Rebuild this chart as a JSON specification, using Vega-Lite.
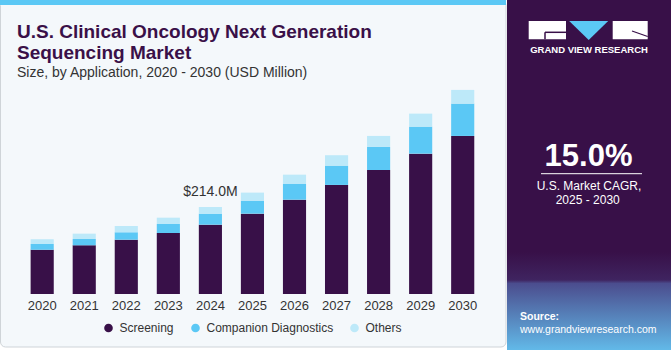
{
  "$schema": "https://vega.github.io/schema/vega-lite/v6.json",
  "background": "#ffffff",
  "padding": 0,
  "spacing": 0,
  "config": {"view": {"stroke": null}, "font": "Liberation Sans"},
  "hconcat": [
    {
      "width": 470.9,
      "height": 294,
      "title": {
        "text": ["U.S. Clinical Oncology Next Generation", "Sequencing Market"],
        "subtitle": "Size, by Application, 2020 - 2030 (USD Million)",
        "anchor": "start",
        "frame": "group",
        "orient": "top",
        "offset": -80,
        "font": "Liberation Sans",
        "fontSize": 19,
        "fontWeight": "bold",
        "color": "#3a1048",
        "lineHeight": 21.5,
        "subtitleFont": "Liberation Sans",
        "subtitleFontSize": 14,
        "subtitleColor": "#333333",
        "subtitlePadding": 3
      },
      "layer": [
        {
          "data": {"values": [{"panel": "left"}]},
          "mark": {"type": "rect", "fill": "#f4f8fb", "stroke": "#cfd4d8", "strokeWidth": 1, "cornerRadius": 5},
          "encoding": {"x": {"value": -16.5}, "x2": {"value": 489}, "y": {"value": 0.5}, "y2": {"value": 347}}
        },
        {
          "data": {"values": [{"panel": "strip"}]},
          "mark": {"type": "rect", "fill": "#5bc8f5"},
          "encoding": {"x": {"value": -17}, "x2": {"value": 489}, "y": {"value": 0}, "y2": {"value": 5}}
        },
        {
          "data": {
            "values": [
              {"year": "2020", "segment": "Screening", "value": 109.0},
              {"year": "2020", "segment": "Companion Diagnostics", "value": 14.0},
              {"year": "2020", "segment": "Others", "value": 11.5},
              {"year": "2021", "segment": "Screening", "value": 119.8},
              {"year": "2021", "segment": "Companion Diagnostics", "value": 15.5},
              {"year": "2021", "segment": "Others", "value": 13.1},
              {"year": "2022", "segment": "Screening", "value": 133.6},
              {"year": "2022", "segment": "Companion Diagnostics", "value": 18.2},
              {"year": "2022", "segment": "Others", "value": 15.5},
              {"year": "2023", "segment": "Screening", "value": 150.0},
              {"year": "2023", "segment": "Companion Diagnostics", "value": 22.1},
              {"year": "2023", "segment": "Others", "value": 15.6},
              {"year": "2024", "segment": "Screening", "value": 170.5},
              {"year": "2024", "segment": "Companion Diagnostics", "value": 27.1},
              {"year": "2024", "segment": "Others", "value": 16.4},
              {"year": "2025", "segment": "Screening", "value": 197.6},
              {"year": "2025", "segment": "Companion Diagnostics", "value": 32.0},
              {"year": "2025", "segment": "Others", "value": 19.7},
              {"year": "2026", "segment": "Screening", "value": 232.0},
              {"year": "2026", "segment": "Companion Diagnostics", "value": 39.4},
              {"year": "2026", "segment": "Others", "value": 22.1},
              {"year": "2027", "segment": "Screening", "value": 268.2},
              {"year": "2027", "segment": "Companion Diagnostics", "value": 47.5},
              {"year": "2027", "segment": "Others", "value": 25.6},
              {"year": "2028", "segment": "Screening", "value": 305.0},
              {"year": "2028", "segment": "Companion Diagnostics", "value": 56.6},
              {"year": "2028", "segment": "Others", "value": 27.1},
              {"year": "2029", "segment": "Screening", "value": 345.2},
              {"year": "2029", "segment": "Companion Diagnostics", "value": 66.4},
              {"year": "2029", "segment": "Others", "value": 32.0},
              {"year": "2030", "segment": "Screening", "value": 388.7},
              {"year": "2030", "segment": "Companion Diagnostics", "value": 79.5},
              {"year": "2030", "segment": "Others", "value": 33.7}
            ]
          },
          "transform": [
            {"calculate": "indexof(['Screening','Companion Diagnostics','Others'], datum.segment)", "as": "stackOrder"}
          ],
          "mark": {"type": "bar"},
          "encoding": {
            "x": {
              "field": "year",
              "type": "ordinal",
              "scale": {"paddingInner": 0.45, "paddingOuter": 0.324},
              "axis": {"title": null, "labelAngle": 0, "ticks": false, "domain": false, "labelFontSize": 13, "labelColor": "#333333", "labelPadding": 5, "labelFont": "Liberation Sans", "zindex": 1}
            },
            "y": {
              "field": "value",
              "type": "quantitative",
              "stack": "zero",
              "scale": {"domain": [0, 723], "nice": false, "zero": true},
              "axis": null
            },
            "color": {
              "field": "segment",
              "type": "nominal",
              "scale": {"domain": ["Screening", "Companion Diagnostics", "Others"], "range": ["#381048", "#5bc8f5", "#bde9f9"]},
              "legend": {
                "title": null,
                "orient": "none",
                "legendX": 85.5,
                "legendY": 322,
                "direction": "horizontal",
                "symbolType": "circle",
                "symbolSize": 75,
                "labelFontSize": 12,
                "labelColor": "#333333",
                "labelFont": "Liberation Sans",
                "columnPadding": 15,
                "labelOffset": 5
              }
            },
            "order": {"field": "stackOrder", "type": "quantitative"}
          }
        },
        {
          "data": {"values": [{"year": "2024", "value": 214.0, "label": "$214.0M"}]},
          "mark": {"type": "text", "baseline": "alphabetic", "dy": -11, "fontSize": 14, "color": "#333333", "font": "Liberation Sans"},
          "encoding": {
            "x": {"field": "year", "type": "ordinal"},
            "y": {"field": "value", "type": "quantitative"},
            "text": {"field": "label"}
          }
        }
      ]
    },
    {
      "width": 165,
      "height": 350,
      "view": {
        "stroke": null,
        "fill": {
          "gradient": "linear", "x1": 0, "y1": 0, "x2": 0, "y2": 1,
          "stops": [
            {"offset": 0, "color": "#381048"},
            {"offset": 0.72, "color": "#381048"},
            {"offset": 0.8, "color": "#3f2460"},
            {"offset": 0.81, "color": "#4b4d8e"},
            {"offset": 1, "color": "#62b9e8"}
          ]
        }
      },
      "layer": [
        {
          "data": {"values": [{"part": "G"}]},
          "mark": {"type": "rect", "fill": "#ffffff"},
          "encoding": {"x": {"value": 21.7}, "x2": {"value": 59}, "y": {"value": 21}, "y2": {"value": 39.3}}
        },
        {
          "data": {"values": [{"part": "R"}]},
          "mark": {"type": "rect", "fill": "#ffffff"},
          "encoding": {"x": {"value": 105.7}, "x2": {"value": 140.7}, "y": {"value": 21}, "y2": {"value": 39.3}}
        },
        {
          "data": {"values": [{"part": "Gh"}]},
          "mark": {"type": "rule", "color": "#381048", "strokeWidth": 1.5},
          "encoding": {"x": {"value": 38}, "x2": {"value": 59}, "y": {"value": 32.3}}
        },
        {
          "data": {"values": [{"part": "Gv"}]},
          "mark": {"type": "rule", "color": "#381048", "strokeWidth": 1.5},
          "encoding": {"x": {"value": 38}, "y": {"value": 32.3}, "y2": {"value": 39.3}}
        },
        {
          "data": {"values": [{"part": "Rd"}]},
          "mark": {"type": "rule", "color": "#381048", "strokeWidth": 1.2},
          "encoding": {"x": {"value": 125}, "y": {"value": 31}, "x2": {"value": 140.7}, "y2": {"value": 36.5}}
        },
        {
          "data": {"values": [{"part": "V"}]},
          "mark": {"type": "point", "shape": "M-1,-0.487L1,-0.487L0,0.487Z", "filled": true, "fill": "#5bc8f5", "opacity": 1, "strokeWidth": 0, "size": 1521},
          "encoding": {"x": {"value": 81.7}, "y": {"value": 30.5}}
        },
        {
          "data": {"values": [{"t": "GRAND VIEW RESEARCH"}]},
          "mark": {"type": "text", "align": "center", "baseline": "alphabetic", "fontSize": 9.5, "fontWeight": "bold", "color": "#ffffff"},
          "encoding": {"x": {"value": 82}, "y": {"value": 53.3}, "text": {"field": "t"}}
        },
        {
          "data": {"values": [{"t": "15.0%"}]},
          "mark": {"type": "text", "align": "center", "baseline": "alphabetic", "fontSize": 31, "fontWeight": "bold", "color": "#ffffff"},
          "encoding": {"x": {"value": 81.5}, "y": {"value": 166}, "text": {"field": "t"}}
        },
        {
          "data": {"values": [{"part": "line"}]},
          "mark": {"type": "rule", "color": "#ffffff", "strokeWidth": 1},
          "encoding": {"x": {"value": 34}, "x2": {"value": 135}, "y": {"value": 173.7}}
        },
        {
          "data": {"values": [{"t": "U.S. Market CAGR,"}]},
          "mark": {"type": "text", "align": "center", "baseline": "alphabetic", "fontSize": 12, "color": "#ffffff"},
          "encoding": {"x": {"value": 82}, "y": {"value": 190}, "text": {"field": "t"}}
        },
        {
          "data": {"values": [{"t": "2025 - 2030"}]},
          "mark": {"type": "text", "align": "center", "baseline": "alphabetic", "fontSize": 12, "color": "#ffffff"},
          "encoding": {"x": {"value": 80.7}, "y": {"value": 204.3}, "text": {"field": "t"}}
        },
        {
          "data": {"values": [{"t": "Source:"}]},
          "mark": {"type": "text", "align": "left", "baseline": "alphabetic", "fontSize": 10.5, "fontWeight": "bold", "color": "#ffffff"},
          "encoding": {"x": {"value": 13}, "y": {"value": 320}, "text": {"field": "t"}}
        },
        {
          "data": {"values": [{"t": "www.grandviewresearch.com"}]},
          "mark": {"type": "text", "align": "left", "baseline": "alphabetic", "fontSize": 10.5, "color": "#ffffff"},
          "encoding": {"x": {"value": 13}, "y": {"value": 333}, "text": {"field": "t"}}
        }
      ]
    }
  ]
}
